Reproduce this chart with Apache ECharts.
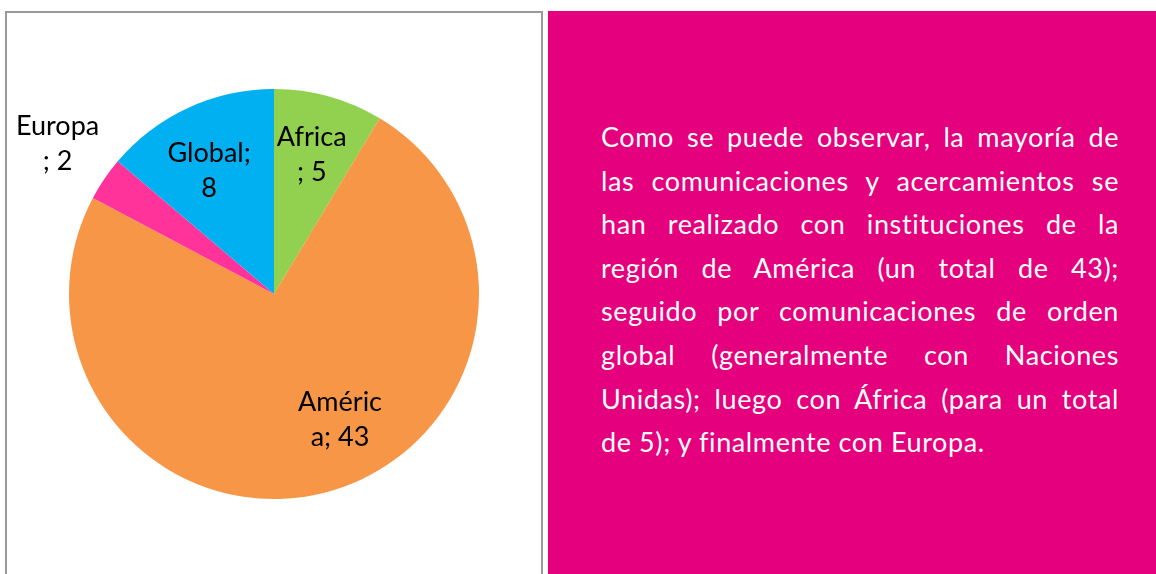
<!DOCTYPE html>
<html>
<head>
<meta charset="utf-8">
<script src="https://cdn.jsdelivr.net/npm/echarts@6/dist/echarts.min.js"></script>
<style>
  html, body { margin:0; padding:0; width:1156px; height:574px; overflow:hidden; background:#fff; }
  #box { position:absolute; left:5px; top:11px; width:534px; height:600px; border:2px solid #999; border-bottom:none; }
  #container { position:absolute; left:0; top:0; width:546px; height:574px; }
  #panel { position:absolute; left:548px; top:11px; width:608px; height:600px; background:#E5007E; }
  #txt { position:absolute; left:601px; top:115px; width:518px; color:#fff;
         font-family:Lato, "Open Sans", sans-serif; font-size:27px; line-height:43.6px; letter-spacing:0.6px; }
  #txt div { text-align:justify; text-align-last:justify; white-space:nowrap; }
  #txt div.last { text-align-last:left; }
</style>
</head>
<body>
<div id="box"></div>
<div id="panel"></div>
<div id="txt">
  <div>Como se puede observar, la mayoría de</div>
  <div>las comunicaciones y acercamientos se</div>
  <div>han realizado con instituciones de la</div>
  <div>región de América (un total de 43);</div>
  <div>seguido por comunicaciones de orden</div>
  <div>global (generalmente con Naciones</div>
  <div>Unidas); luego con África (para un total</div>
  <div class="last">de 5); y finalmente con Europa.</div>
</div>
<div id="container"></div>
<script>
var regions = ['Africa', 'América', 'Europa', 'Global'];
var values = [5, 43, 2, 8];
// texto de etiqueta tal como sale en la imagen (cortado por Excel)
var labelText = ['Africa\n; 5', 'Améric\na; 43', 'Europa\n; 2', 'Global;\n8'];
var colors = ['#92D050', '#F79646', '#FF3399', '#00B0F0'];

var cx = 274, cy = 294, R = 205;
// distancia de la etiqueta al centro (fraccion del radio) y ajuste fino
var labelDist = [0.706, 0.694, 1.293, 0.684];
var labelNudge = [[-1, 0], [28, -11], [3, -1], [-6, 4]];

var dom = document.getElementById("container");
var myChart = echarts.init(dom, null, {renderer: 'canvas'});
var option = null;

var data = [];
for (var i = 0; i < regions.length; i++) {
    data.push({
        name: regions[i],
        value: values[i],
        itemStyle: { color: colors[i] },
        label: { formatter: labelText[i] }
    });
}

option = {
    animation: false,
    series: [{
        type: 'pie',
        center: [cx, cy],
        radius: [0, R],
        startAngle: 90,
        clockwise: true,
        silent: true,
        itemStyle: { borderWidth: 0 },
        label: {
            show: true,
            position: 'inside',
            color: '#000',
            fontFamily: 'Lato, "Liberation Sans", sans-serif',
            fontSize: 27,
            lineHeight: 35,
            textBorderWidth: 0,
            align: 'center'
        },
        labelLine: { show: false },
        emphasis: { disabled: true },
        labelLayout: function (params) {
            var r = params.labelRect;
            var lx = r.x + r.width / 2, ly = r.y + r.height / 2;
            var dx = lx - cx, dy = ly - cy;
            var len = Math.sqrt(dx * dx + dy * dy) || 1;
            var k = labelDist[params.dataIndex] * R;
            var n = labelNudge[params.dataIndex];
            return {
                x: cx + dx / len * k + n[0],
                y: cy + dy / len * k + n[1],
                align: 'center',
                verticalAlign: 'middle'
            };
        },
        data: data
    }]
};

if (option && typeof option === "object") {
    myChart.setOption(option, true);
}
</script>
</body>
</html>
